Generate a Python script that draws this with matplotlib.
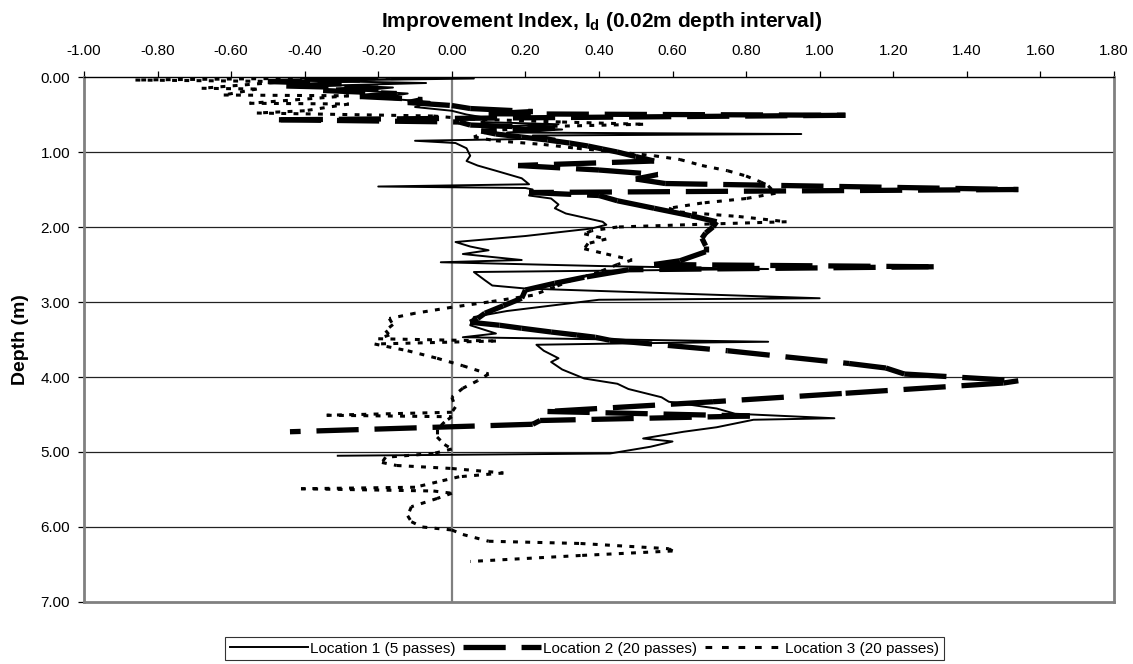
import matplotlib
matplotlib.use("Agg")
import matplotlib.pyplot as plt
from matplotlib.collections import LineCollection
from matplotlib.lines import Line2D
from matplotlib.ticker import FormatStrFormatter

plt.rcParams['font.family'] = ['Liberation Sans', 'DejaVu Sans']
plt.rcParams['axes.unicode_minus'] = False
plt.rcParams['mathtext.fontset'] = 'custom'
plt.rcParams['mathtext.rm'] = 'Liberation Sans'
plt.rcParams['mathtext.bf'] = 'Liberation Sans:bold'

# Location 1 (5 passes): depth (m) and improvement index
depth_1 = [0.00, 0.02, 0.05, 0.08, 0.11, 0.14, 0.18, 0.22, 0.28, 0.33, 0.40, 0.45,
           0.50, 0.55, 0.60, 0.63, 0.66, 0.70, 0.74, 0.76, 0.78, 0.82, 0.85, 0.88,
           0.95, 1.05, 1.12, 1.18, 1.25, 1.35, 1.43, 1.46, 1.48, 1.50, 1.58, 1.62,
           1.70, 1.75, 1.82, 1.93, 1.97, 2.02, 2.12, 2.20, 2.26, 2.31, 2.36, 2.44,
           2.47, 2.52, 2.56, 2.60, 2.71, 2.78, 2.82, 2.95, 2.97, 3.12, 3.20, 3.31,
           3.42, 3.47, 3.53, 3.55, 3.57, 3.65, 3.75, 3.80, 3.90, 4.02, 4.09, 4.16,
           4.27, 4.33, 4.42, 4.49, 4.55, 4.57, 4.67, 4.73, 4.82, 4.86, 4.93, 5.02,
           5.05]
index_1 = [-0.30, 0.06, -0.40, -0.07, -0.30, -0.16, -0.25, -0.12, -0.20, -0.06, -0.10, 0.00,
           0.04, 0.10, 0.08, 0.29, 0.12, 0.30, 0.15, 0.95, 0.22, 0.28, -0.10, 0.01,
           0.04, 0.05, 0.04, 0.07, 0.12, 0.19, 0.21, -0.20, 0.20, 0.22, 0.21, 0.27,
           0.29, 0.28, 0.31, 0.41, 0.42, 0.38, 0.20, 0.01, 0.05, 0.10, 0.03, 0.19,
           -0.03, 0.40, 0.86, 0.06, 0.09, 0.11, 0.20, 1.00, 0.40, 0.15, 0.06, 0.05,
           0.12, 0.03, 0.86, 0.50, 0.23, 0.25, 0.29, 0.27, 0.30, 0.36, 0.45, 0.48,
           0.57, 0.59, 0.72, 0.77, 1.04, 0.82, 0.72, 0.63, 0.52, 0.60, 0.54, 0.43,
           -0.31]

# Location 2 (20 passes)
depth_2 = [0.00, 0.02, 0.04, 0.06, 0.09, 0.12, 0.15, 0.18, 0.22, 0.26, 0.30, 0.34,
           0.38, 0.42, 0.46, 0.49, 0.51, 0.57, 0.60, 0.64, 0.68, 0.72, 0.76, 0.80,
           0.84, 0.88, 0.92, 0.96, 1.00, 1.06, 1.12, 1.18, 1.24, 1.30, 1.36, 1.42,
           1.50, 1.54, 1.58, 1.65, 1.75, 1.85, 1.93, 2.00, 2.08, 2.15, 2.25, 2.33,
           2.45, 2.50, 2.53, 2.57, 2.67, 2.75, 2.84, 2.95, 3.05, 3.15, 3.22, 3.27,
           3.31, 3.35, 3.40, 3.44, 3.47, 3.51, 3.65, 3.82, 3.88, 3.96, 4.05, 4.08,
           4.22, 4.33, 4.46, 4.52, 4.58, 4.63, 4.73]
index_2 = [-0.05, -0.40, -0.25, -0.50, -0.30, -0.45, -0.20, -0.35, -0.15, -0.25, -0.08, -0.12,
           0.00, 0.05, 0.22, 0.10, 1.07, -0.47, 0.02, 0.05, 0.28, 0.08, 0.12, 0.19,
           0.26, 0.32, 0.37, 0.41, 0.45, 0.50, 0.55, 0.18, 0.40, 0.56, 0.50, 0.58,
           1.54, 0.21, 0.40, 0.45, 0.55, 0.65, 0.72, 0.71, 0.69, 0.68, 0.69, 0.69,
           0.62, 0.55, 1.31, 0.48, 0.36, 0.28, 0.20, 0.19, 0.14, 0.09, 0.07, 0.05,
           0.13, 0.19, 0.27, 0.34, 0.39, 0.43, 0.75, 1.08, 1.18, 1.23, 1.54, 1.50,
           1.06, 0.71, 0.26, 0.81, 0.24, 0.22, -0.44]

# Location 3 (20 passes)
depth_3 = [0.00, 0.04, 0.06, 0.15, 0.16, 0.24, 0.25, 0.35, 0.36, 0.45, 0.48, 0.52,
           0.56, 0.60, 0.63, 0.66, 0.72, 0.80, 0.85, 0.90, 0.95, 1.00, 1.05, 1.10,
           1.18, 1.25, 1.32, 1.40, 1.45, 1.50, 1.55, 1.62, 1.68, 1.75, 1.80, 1.86,
           1.93, 1.96, 2.00, 2.05, 2.09, 2.16, 2.22, 2.29, 2.36, 2.44, 2.50, 2.60,
           2.70, 2.80, 2.91, 3.00, 3.07, 3.15, 3.22, 3.30, 3.38, 3.44, 3.49, 3.52,
           3.56, 3.65, 3.75, 3.85, 3.96, 4.05, 4.15, 4.27, 4.40, 4.47, 4.51, 4.53,
           4.60, 4.70, 4.80, 4.90, 4.96, 5.02, 5.07, 5.14, 5.18, 5.22, 5.28, 5.33,
           5.40, 5.47, 5.49, 5.52, 5.55, 5.62, 5.73, 5.85, 5.93, 6.00, 6.04, 6.10,
           6.19, 6.22, 6.29, 6.32, 6.38, 6.46]
index_3 = [-0.10, -0.86, -0.45, -0.68, -0.53, -0.62, -0.28, -0.55, -0.28, -0.40, -0.53, -0.05,
           0.05, 0.30, 0.52, 0.25, 0.10, 0.06, 0.12, 0.25, 0.34, 0.45, 0.55, 0.62,
           0.68, 0.75, 0.80, 0.84, 0.86, 0.87, 0.88, 0.80, 0.68, 0.59, 0.62, 0.78,
           0.91, 0.70, 0.45, 0.38, 0.36, 0.42, 0.37, 0.36, 0.42, 0.49, 0.45, 0.40,
           0.33, 0.28, 0.22, 0.10, 0.00, -0.10, -0.17, -0.16, -0.18, -0.17, -0.20, 0.12,
           -0.21, -0.12, -0.04, 0.03, 0.10, 0.07, 0.03, 0.00, 0.01, 0.00, -0.34, 0.00,
           -0.02, -0.04, -0.04, -0.02, 0.00, -0.05, -0.18, -0.19, -0.15, 0.00, 0.14, 0.02,
           -0.04, -0.10, -0.41, -0.05, 0.00, -0.04, -0.11, -0.12, -0.11, -0.08, 0.00, 0.03,
           0.10, 0.35, 0.59, 0.60, 0.35, 0.05]

x_ticks = [-1.00, -0.80, -0.60, -0.40, -0.20, 0.00, 0.20, 0.40, 0.60, 0.80,
           1.00, 1.20, 1.40, 1.60, 1.80]
depth_ticks = [0, 1, 2, 3, 4, 5, 6, 7]

DASH_2 = (8, 3)
DASH_3 = (1.6, 2.4)


def dashed_segments(x, y, lw, dashes, z):
    # every segment restarts its dash pattern, so short steps draw solid
    segs = [[(x[i], y[i]), (x[i + 1], y[i + 1])] for i in range(len(x) - 1)]
    return LineCollection(segs, colors='black', linewidths=lw,
                          linestyles=[(0, dashes)], capstyle='butt',
                          joinstyle='miter', zorder=z)


fig = plt.figure(figsize=(11.33, 6.64), dpi=100)
ax = fig.add_axes([0.0741, 0.0934, 0.9091, 0.7906])

# horizontal grid at each metre, vertical reference line at zero
for d in depth_ticks[1:-1]:
    ax.axhline(d, color='#222222', lw=0.9, zorder=1)
ax.axvline(0, color='#808080', lw=1.6, zorder=1)

ax.plot(index_1, depth_1, color='black', lw=1.4, zorder=3)
ax.add_collection(dashed_segments(index_2, depth_2, 3.8, DASH_2, 4))
ax.add_collection(dashed_segments(index_3, depth_3, 2.2, DASH_3, 5))

ax.set_xlim(-1.0, 1.8)
ax.set_ylim(7.0, 0.0)
ax.set_xticks(x_ticks)
ax.set_yticks(depth_ticks)
ax.xaxis.set_major_formatter(FormatStrFormatter('%.2f'))
ax.yaxis.set_major_formatter(FormatStrFormatter('%.2f'))
ax.xaxis.tick_top()
ax.tick_params(axis='x', direction='out', length=4, width=0.9, pad=10,
               labelsize=11, colors='black')
ax.tick_params(axis='y', direction='out', length=4, width=0.9, pad=6,
               labelsize=11, colors='black')

for side in ['left', 'right', 'bottom']:
    ax.spines[side].set_color('#808080')
    ax.spines[side].set_linewidth(2.0)
ax.spines['top'].set_color('black')
ax.spines['top'].set_linewidth(1.0)

ax.set_ylabel('Depth (m)', fontsize=14, fontweight='bold', labelpad=8)
fig.text(0.531, 0.967, r'Improvement Index, $\mathbf{I_d}$ (0.02m depth interval)',
         ha='center', va='center', fontsize=15, fontweight='bold')

handles = [Line2D([], [], color='black', lw=1.4),
           Line2D([], [], color='black', lw=3.8, dashes=DASH_2, dash_capstyle='butt'),
           Line2D([], [], color='black', lw=2.2, dashes=(2.2, 3.2), dash_capstyle='butt')]
labels = ['Location 1 (5 passes)', 'Location 2 (20 passes)', 'Location 3 (20 passes)']
leg = fig.legend(handles, labels, loc='upper center', bbox_to_anchor=(0.516, 0.0405),
                 ncol=3, fontsize=11, handlelength=5.1, handletextpad=0.15,
                 columnspacing=0.5, borderpad=0.3, borderaxespad=0.0,
                 fancybox=False, frameon=True, edgecolor='black')
leg.get_frame().set_linewidth(0.8)

fig.savefig('out.png', dpi=100)
